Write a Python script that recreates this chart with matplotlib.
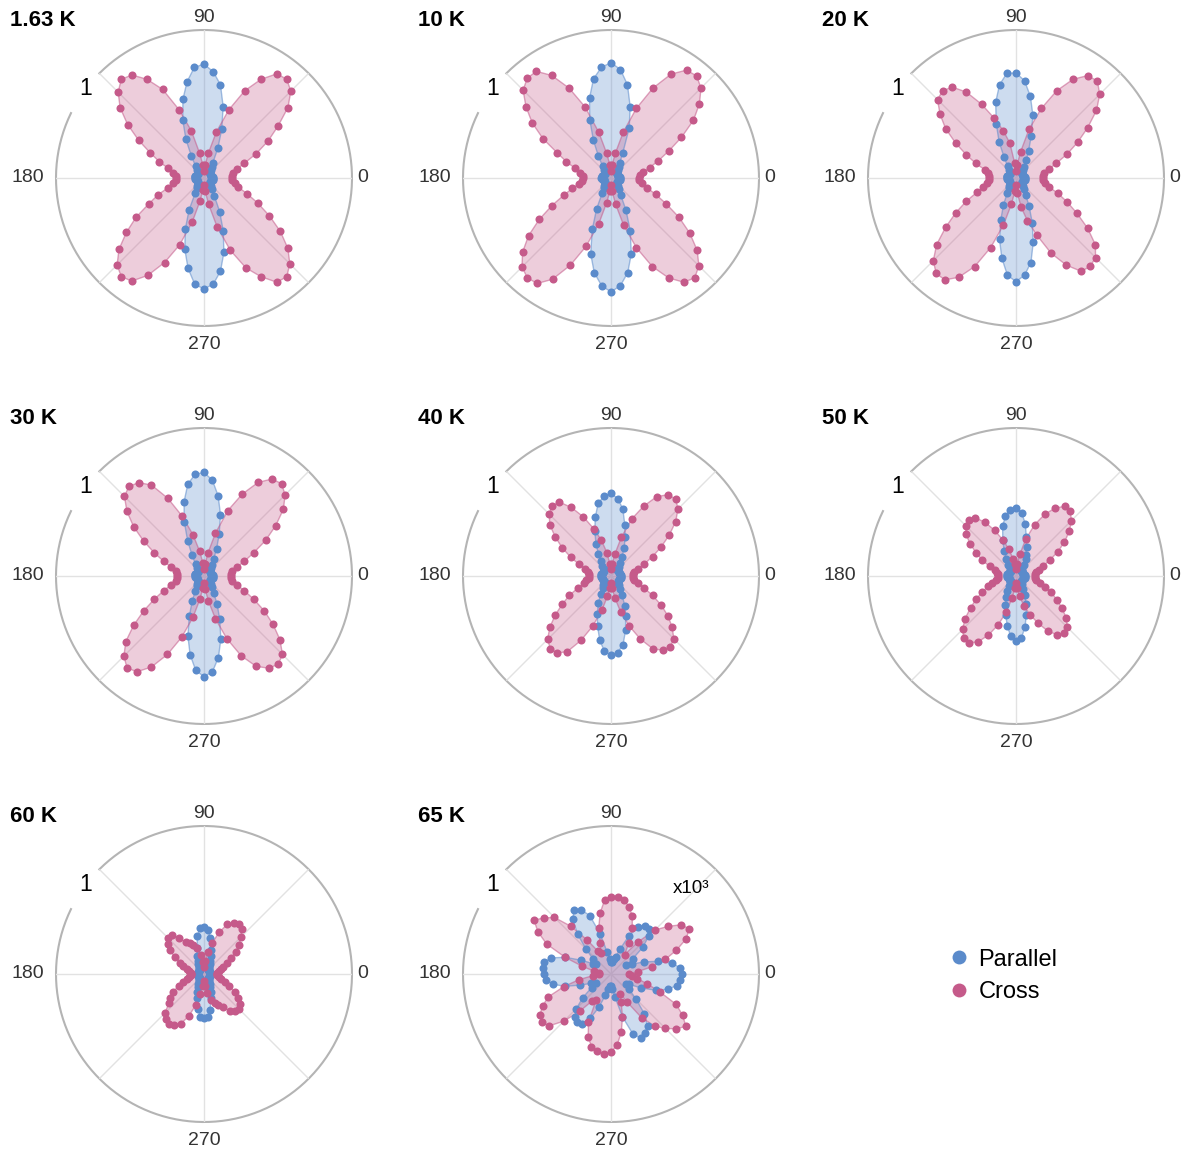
import numpy as np
import matplotlib.pyplot as plt
from matplotlib.lines import Line2D

plt.rcParams['font.family'] = ['Liberation Sans', 'DejaVu Sans']

# Measurement angles (deg), one point every 5 degrees.
angles = np.arange(0, 360, 5)

temps = ['1.63 K', '10 K', '20 K', '30 K', '40 K', '50 K', '60 K', '65 K']

# Normalised intensities (0..355 deg).
par_1p63 = [0.06,0.06,0.05,0.05,0.05,0.05,0.05,0.05,0.05,0.06,0.07,0.09,0.12,0.22,0.35,0.50,0.64,0.72,
            0.77,0.75,0.66,0.55,0.42,0.29,0.17,0.10,0.07,0.06,0.05,0.05,0.05,0.05,0.05,0.06,0.06,0.06,
            0.06,0.06,0.05,0.05,0.05,0.05,0.05,0.05,0.05,0.06,0.07,0.08,0.12,0.24,0.37,0.50,0.62,0.72,
            0.75,0.72,0.64,0.52,0.38,0.25,0.14,0.09,0.07,0.06,0.05,0.05,0.05,0.05,0.05,0.05,0.06,0.06]
cross_1p63 = [0.19,0.19,0.20,0.23,0.29,0.39,0.50,0.61,0.74,0.83,0.87,0.86,0.77,0.65,0.49,0.32,0.17,0.09,
              0.05,0.09,0.17,0.33,0.49,0.66,0.77,0.85,0.87,0.82,0.74,0.63,0.51,0.40,0.32,0.25,0.21,0.19,
              0.19,0.19,0.21,0.25,0.33,0.41,0.53,0.64,0.75,0.83,0.87,0.85,0.76,0.63,0.48,0.31,0.16,0.08,
              0.05,0.09,0.18,0.34,0.52,0.67,0.77,0.86,0.87,0.82,0.74,0.63,0.51,0.40,0.31,0.24,0.21,0.19]

par_10 = [0.06,0.06,0.05,0.05,0.05,0.05,0.05,0.05,0.05,0.06,0.07,0.09,0.12,0.19,0.36,0.50,0.64,0.735,
          0.78,0.75,0.68,0.56,0.42,0.28,0.17,0.10,0.07,0.06,0.05,0.05,0.05,0.05,0.05,0.06,0.06,0.06,
          0.07,0.06,0.05,0.05,0.05,0.05,0.05,0.05,0.05,0.06,0.07,0.08,0.12,0.23,0.37,0.53,0.65,0.73,
          0.77,0.73,0.65,0.53,0.38,0.24,0.13,0.09,0.07,0.06,0.05,0.05,0.05,0.05,0.05,0.05,0.06,0.06]
cross_10 = [0.19,0.20,0.22,0.27,0.34,0.43,0.55,0.68,0.78,0.86,0.90,0.89,0.81,0.67,0.50,0.32,0.17,0.09,
            0.05,0.09,0.17,0.32,0.51,0.67,0.80,0.88,0.88,0.84,0.75,0.65,0.53,0.40,0.32,0.25,0.21,0.19,
            0.19,0.20,0.22,0.27,0.34,0.44,0.56,0.68,0.78,0.85,0.88,0.87,0.79,0.65,0.49,0.32,0.17,0.09,
            0.05,0.09,0.18,0.33,0.50,0.66,0.78,0.86,0.88,0.84,0.76,0.65,0.53,0.41,0.32,0.25,0.21,0.19]

par_20 = [0.06,0.06,0.05,0.05,0.05,0.05,0.05,0.05,0.05,0.06,0.07,0.09,0.14,0.20,0.30,0.44,0.56,0.66,
          0.71,0.71,0.64,0.53,0.39,0.27,0.16,0.10,0.07,0.06,0.05,0.05,0.05,0.05,0.05,0.06,0.06,0.06,
          0.06,0.06,0.05,0.05,0.05,0.05,0.05,0.05,0.05,0.06,0.07,0.08,0.12,0.20,0.30,0.43,0.55,0.66,
          0.70,0.66,0.58,0.45,0.32,0.21,0.13,0.09,0.07,0.06,0.05,0.05,0.05,0.05,0.05,0.05,0.06,0.06]
cross_20 = [0.18,0.18,0.19,0.23,0.29,0.38,0.48,0.59,0.71,0.80,0.855,0.845,0.77,0.65,0.50,0.34,0.18,0.09,
            0.05,0.10,0.24,0.33,0.43,0.55,0.67,0.75,0.77,0.75,0.67,0.58,0.47,0.37,0.29,0.22,0.19,0.18,
            0.18,0.18,0.20,0.23,0.28,0.37,0.47,0.58,0.70,0.79,0.84,0.84,0.775,0.66,0.50,0.33,0.18,0.09,
            0.05,0.10,0.20,0.30,0.41,0.56,0.68,0.77,0.78,0.76,0.70,0.59,0.475,0.38,0.30,0.23,0.20,0.18]

par_30 = [0.06,0.06,0.05,0.05,0.05,0.05,0.05,0.05,0.05,0.06,0.07,0.09,0.13,0.20,0.30,0.43,0.55,0.65,
          0.70,0.69,0.63,0.52,0.39,0.26,0.16,0.10,0.07,0.06,0.05,0.05,0.05,0.05,0.05,0.06,0.06,0.06,
          0.06,0.06,0.05,0.05,0.05,0.05,0.05,0.05,0.05,0.06,0.07,0.08,0.12,0.19,0.29,0.42,0.54,0.64,
          0.68,0.65,0.56,0.44,0.31,0.21,0.13,0.09,0.07,0.06,0.05,0.05,0.05,0.05,0.05,0.05,0.06,0.06]
cross_30 = [0.18,0.18,0.19,0.23,0.29,0.37,0.48,0.59,0.70,0.775,0.815,0.80,0.73,0.61,0.47,0.30,0.16,0.08,
            0.05,0.09,0.17,0.29,0.43,0.58,0.71,0.77,0.79,0.76,0.68,0.58,0.47,0.37,0.29,0.23,0.19,0.18,
            0.18,0.18,0.19,0.23,0.29,0.37,0.47,0.58,0.69,0.765,0.81,0.79,0.71,0.585,0.44,0.29,0.16,0.08,
            0.05,0.09,0.17,0.30,0.45,0.595,0.705,0.76,0.78,0.75,0.67,0.57,0.47,0.37,0.29,0.23,0.19,0.18]

par_40 = [0.07,0.07,0.06,0.06,0.06,0.06,0.06,0.06,0.06,0.06,0.08,0.11,0.15,0.21,0.28,0.36,0.46,0.525,
          0.56,0.54,0.50,0.41,0.32,0.24,0.17,0.12,0.09,0.07,0.06,0.06,0.06,0.06,0.06,0.06,0.07,0.07,
          0.07,0.07,0.06,0.06,0.06,0.06,0.06,0.06,0.06,0.06,0.08,0.10,0.14,0.20,0.27,0.35,0.44,0.51,
          0.535,0.52,0.47,0.38,0.29,0.22,0.15,0.11,0.08,0.07,0.06,0.06,0.06,0.06,0.06,0.06,0.07,0.07]
cross_40 = [0.15,0.15,0.16,0.19,0.24,0.31,0.39,0.48,0.57,0.64,0.68,0.67,0.62,0.52,0.41,0.27,0.15,0.08,
            0.05,0.08,0.16,0.25,0.34,0.44,0.535,0.61,0.62,0.59,0.54,0.46,0.38,0.30,0.23,0.18,0.16,0.15,
            0.15,0.15,0.17,0.19,0.24,0.31,0.38,0.46,0.54,0.605,0.64,0.635,0.59,0.48,0.36,0.24,0.14,0.08,
            0.05,0.08,0.15,0.25,0.36,0.47,0.57,0.61,0.625,0.60,0.54,0.47,0.39,0.31,0.24,0.19,0.16,0.15]

par_50 = [0.06,0.06,0.05,0.05,0.05,0.05,0.05,0.05,0.05,0.05,0.06,0.09,0.13,0.16,0.21,0.27,0.36,0.43,
          0.46,0.45,0.41,0.35,0.26,0.19,0.13,0.09,0.06,0.05,0.05,0.05,0.05,0.05,0.05,0.05,0.06,0.06,
          0.06,0.06,0.05,0.05,0.05,0.05,0.05,0.05,0.05,0.05,0.06,0.08,0.12,0.16,0.21,0.27,0.34,0.41,
          0.44,0.42,0.35,0.27,0.20,0.14,0.10,0.07,0.05,0.05,0.05,0.05,0.05,0.05,0.05,0.05,0.06,0.06]
cross_50 = [0.13,0.13,0.14,0.16,0.195,0.25,0.325,0.40,0.47,0.53,0.57,0.575,0.53,0.46,0.37,0.26,0.15,0.08,
            0.05,0.08,0.12,0.19,0.26,0.34,0.42,0.48,0.495,0.48,0.44,0.38,0.31,0.25,0.19,0.15,0.13,0.12,
            0.12,0.12,0.14,0.17,0.20,0.25,0.31,0.375,0.45,0.51,0.55,0.55,0.515,0.44,0.35,0.25,0.15,0.08,
            0.05,0.08,0.14,0.21,0.28,0.35,0.43,0.485,0.505,0.49,0.445,0.38,0.32,0.26,0.21,0.17,0.14,0.13]

par_60 = [0.04,0.04,0.04,0.04,0.04,0.04,0.04,0.04,0.04,0.04,0.05,0.06,0.08,0.10,0.13,0.17,0.25,0.30,
          0.32,0.31,0.26,0.18,0.13,0.10,0.08,0.06,0.05,0.04,0.04,0.04,0.04,0.04,0.04,0.04,0.04,0.04,
          0.04,0.04,0.04,0.04,0.04,0.04,0.04,0.04,0.04,0.04,0.05,0.06,0.08,0.10,0.13,0.17,0.24,0.29,
          0.30,0.29,0.25,0.17,0.13,0.10,0.08,0.06,0.05,0.04,0.04,0.04,0.04,0.04,0.04,0.04,0.04,0.04]
cross_60 = [0.09,0.09,0.10,0.12,0.14,0.17,0.21,0.26,0.31,0.357,0.395,0.41,0.40,0.37,0.30,0.22,0.15,0.09,
            0.05,0.08,0.13,0.18,0.21,0.23,0.25,0.30,0.34,0.34,0.32,0.28,0.23,0.18,0.15,0.12,0.10,0.09,
            0.09,0.09,0.10,0.12,0.15,0.19,0.24,0.28,0.31,0.375,0.40,0.41,0.40,0.37,0.305,0.22,0.14,0.08,
            0.05,0.08,0.13,0.18,0.21,0.23,0.26,0.305,0.33,0.33,0.32,0.28,0.24,0.19,0.15,0.12,0.10,0.09]

# 65 K is shown x10^3
par_65 = [0.48,0.47,0.42,0.33,0.24,0.16,0.12,0.18,0.28,0.36,0.40,0.40,0.37,0.28,0.18,0.12,0.10,0.08,
          0.08,0.10,0.15,0.28,0.42,0.48,0.50,0.45,0.35,0.24,0.16,0.12,0.14,0.22,0.33,0.42,0.46,0.46,
          0.45,0.44,0.40,0.32,0.22,0.15,0.12,0.16,0.25,0.33,0.38,0.40,0.39,0.33,0.24,0.15,0.10,0.08,
          0.08,0.10,0.16,0.30,0.43,0.48,0.46,0.43,0.35,0.24,0.16,0.12,0.14,0.22,0.32,0.40,0.45,0.47]
cross_65 = [0.12,0.18,0.28,0.38,0.47,0.56,0.61,0.58,0.50,0.42,0.28,0.16,0.24,0.34,0.42,0.47,0.51,0.52,
            0.52,0.50,0.42,0.32,0.22,0.16,0.18,0.28,0.42,0.54,0.59,0.635,0.57,0.48,0.33,0.20,0.12,0.08,
            0.08,0.12,0.22,0.33,0.45,0.51,0.555,0.57,0.545,0.45,0.33,0.22,0.20,0.36,0.45,0.51,0.53,0.54,
            0.53,0.48,0.40,0.30,0.20,0.15,0.22,0.36,0.46,0.52,0.576,0.617,0.56,0.486,0.35,0.25,0.18,0.14]

parallel = [par_1p63, par_10, par_20, par_30, par_40, par_50, par_60, par_65]
cross = [cross_1p63, cross_10, cross_20, cross_30, cross_40, cross_50, cross_60, cross_65]

BLUE = '#5b8bcb'
PINK = '#c55a8a'

W, H = 1190, 1151
fig = plt.figure(figsize=(W / 100, H / 100), dpi=100)

R = 148  # polar radius in px
col_x = [204, 611, 1016]
row_y = [178, 576, 974]
title_x = [10, 418, 822]


def draw_series(ax, vals, color):
	th = np.deg2rad(np.append(angles, angles[0]))
	r = np.append(vals, vals[0])
	ax.fill(th, r, color=color, alpha=0.3, lw=0, zorder=2)
	ax.plot(th, r, color=color, alpha=0.55, lw=1, zorder=3)
	ax.plot(th[:-1], r[:-1], 'o', color=color, ms=5.8, mec='none', zorder=4)


for i, t in enumerate(temps):
	row, col = divmod(i, 3)
	cx, cy = col_x[col], row_y[row]
	ax = fig.add_axes([(cx - R) / W, 1 - (cy + R) / H, 2 * R / W, 2 * R / H],
	                  projection='polar')
	ax.set_ylim(0, 1)
	ax.set_yticks([])
	ax.set_xticks(np.deg2rad(np.arange(0, 360, 45)))
	ax.set_xticklabels([])
	ax.grid(True, color='#e2e2e2', lw=1)
	ax.spines['polar'].set_visible(False)
	ax.set_facecolor('none')

	# outer ring, with a gap behind the "1" label
	ring = np.deg2rad(np.linspace(154, 135 + 360, 400))
	ax.plot(ring, np.ones_like(ring), color='#b4b4b4', lw=1.5, clip_on=False, zorder=1)
	ax.text(np.deg2rad(143), 1.0, '1', fontsize=16.5, ha='center', va='center')

	lab = dict(fontsize=14, color='#333333')
	ax.text(0, 1.035, '0', ha='left', va='center', **lab)
	ax.text(np.pi / 2, 1.03, '90', ha='center', va='bottom', **lab)
	ax.text(np.pi, 1.08, '180', ha='right', va='center', **lab)
	ax.text(1.5 * np.pi, 1.07, '270', ha='center', va='top', **lab)

	draw_series(ax, parallel[i], BLUE)
	draw_series(ax, cross[i], PINK)

	if t == '65 K':
		ax.text(np.deg2rad(47), 0.79, 'x10³', fontsize=13.5, ha='center', va='center')

	fig.text(title_x[col] / W, 1 - (row_y[row] - 158) / H, t, fontsize=16,
	         fontweight='bold', ha='left', va='center')

handles = [Line2D([], [], ls='none', marker='o', ms=10, color=BLUE, mec='none'),
           Line2D([], [], ls='none', marker='o', ms=10, color=PINK, mec='none')]
fig.legend(handles, ['Parallel', 'Cross'], loc='center left',
           bbox_to_anchor=(924 / W, 1 - 976 / H), frameon=False, fontsize=17,
           handletextpad=0.2, labelspacing=0.45, handlelength=1.2)

fig.savefig('out.png', dpi=100)
